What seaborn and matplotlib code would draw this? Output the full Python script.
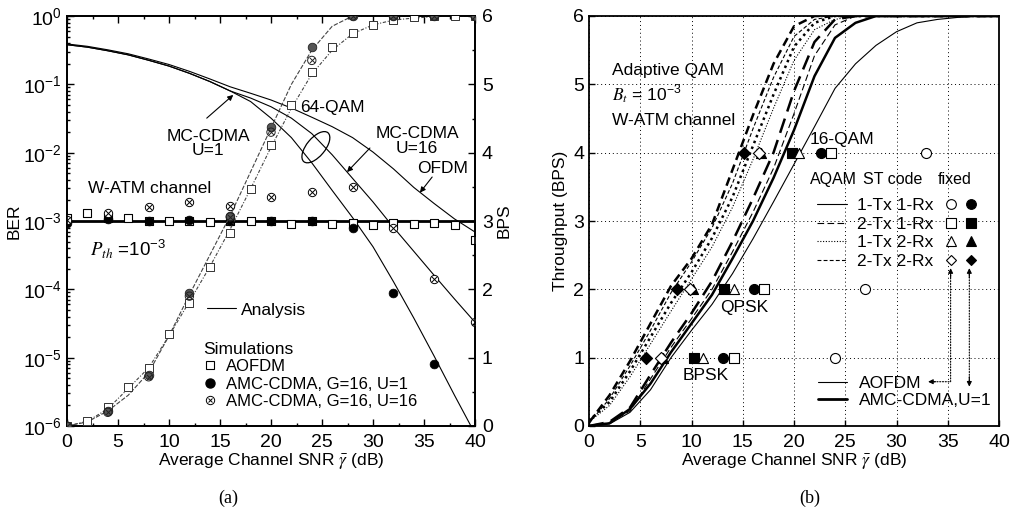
import matplotlib
matplotlib.use("Agg")
import matplotlib.pyplot as plt
import seaborn as sns
import numpy as np
import pandas as pd
from matplotlib.lines import Line2D
from matplotlib.patches import Ellipse
from matplotlib.legend_handler import HandlerTuple
from matplotlib.ticker import MultipleLocator, LogLocator, NullFormatter

# ---------------- data: panel (a) ----------------
snr_a = [0, 2, 4, 6, 8, 10, 12, 14, 16, 18, 20, 22, 24, 26, 28, 30, 32, 34, 36, 38, 40]
snr_u1 = [0, 2, 4, 6, 8, 10, 12, 14, 16, 18, 20, 22, 24, 26, 28, 30, 32, 34, 36, 38, 39.6]
ber_ofdm = [0.39, 0.36, 0.32, 0.28, 0.235, 0.195, 0.155, 0.12, 0.092, 0.074, 0.059, 0.045,
            0.033, 0.024, 0.0166, 0.0102, 5.8e-3, 3.1e-3, 1.8e-3, 1.07e-3, 6.9e-4]
ber_mc_u1 = [0.38, 0.35, 0.31, 0.27, 0.225, 0.185, 0.145, 0.11, 0.08, 0.056, 0.032, 0.0166,
             7.1e-3, 2.8e-3, 1.12e-3, 4.2e-4, 1.3e-4, 3.8e-5, 1.05e-5, 2.8e-6, 1.0e-6]
ber_mc_u16 = [0.38, 0.35, 0.31, 0.27, 0.225, 0.185, 0.145, 0.11, 0.08, 0.063, 0.047, 0.032,
              0.019, 9.3e-3, 4.2e-3, 1.9e-3, 8.1e-4, 3.6e-4, 1.6e-4, 7.2e-5, 3.3e-5]
bps_mc = [0, 0.06, 0.22, 0.45, 0.78, 1.32, 1.92, 2.5, 3.08, 3.72, 4.36, 5.0, 5.5, 5.85, 6, 6, 6, 6, 6, 6, 6]
bps_ofdm = [0, 0.07, 0.25, 0.55, 0.85, 1.32, 1.82, 2.33, 2.88, 3.47, 4.08, 4.65, 5.15, 5.5,
            5.74, 5.87, 5.94, 5.97, 5.99, 6, 6]

ber_sim_aofdm = [1.12e-3, 1.3e-3, 1.1e-3, 1.1e-3, 1.0e-3, 1.0e-3, 1.0e-3, 0.98e-3, 1.0e-3, 1.0e-3,
                 1.0e-3, 0.9e-3, 1.0e-3, 0.9e-3, 0.95e-3, 0.88e-3, 0.92e-3, 0.9e-3, 0.92e-3, 0.87e-3, 5.3e-4]
bps_sim_aofdm = [0, 0.07, 0.28, 0.57, 0.85, 1.35, 1.8, 2.33, 2.82, 3.47, 4.11, 4.7, 5.18, 5.55,
                 5.75, 5.87, 5.94, 5.98, 6, 6, 6]
snr_sim_mc = [0, 4, 8, 12, 16, 20, 24, 28, 32, 36, 40]
snr_sim_u1_ber = [0, 4, 8, 12, 16, 20, 24, 28, 32, 36]
ber_sim_u1 = [0.93e-3, 1.08e-3, 1.0e-3, 1.02e-3, 1.0e-3, 1.0e-3, 1.0e-3, 0.79e-3, 8.8e-5, 8.1e-6]
ber_sim_u16 = [1.05e-3, 1.3e-3, 1.6e-3, 1.9e-3, 1.65e-3, 2.26e-3, 2.7e-3, 3.1e-3, 0.8e-3, 1.4e-4, 3.3e-5]
bps_sim_u1 = [0, 0.22, 0.75, 1.94, 3.08, 4.38, 5.55, 6, 6, 6, 6]
bps_sim_u16 = [0, 0.2, 0.72, 1.9, 3.06, 4.3, 5.35, 6, 6, 6, 6]
p_th = 1e-3

# ---------------- data: panel (b) ----------------
snr_b = [0, 2, 4, 6, 8, 10, 12, 14, 16, 18, 20, 22, 24, 26, 28, 30, 32, 34, 36, 38, 40]
thr_aofdm_1x1 = [0, 0.03, 0.2, 0.53, 1.0, 1.4, 1.78, 2.23, 2.74, 3.28, 3.83, 4.38, 4.94, 5.3, 5.57, 5.77, 5.9, 5.95, 5.98, 6.0, 6.0]
thr_mc_1x1 = [0, 0.04, 0.25, 0.62, 1.08, 1.5, 1.92, 2.45, 3.0, 3.63, 4.33, 5.12, 5.68, 5.9, 6.0, 6, 6, 6, 6, 6, 6]
thr_aofdm_2x1 = [0, 0.05, 0.22, 0.69, 1.15, 1.57, 2.0, 2.55, 3.13, 3.77, 4.57, 5.42, 5.87, 6.0, 6, 6, 6, 6, 6, 6, 6]
thr_mc_2x1 = [0, 0.06, 0.27, 0.75, 1.22, 1.65, 2.12, 2.7, 3.33, 4.0, 4.9, 5.62, 5.95, 6.0, 6, 6, 6, 6, 6, 6, 6]
thr_aofdm_1x2 = [0.06, 0.3, 0.72, 1.2, 1.68, 2.15, 2.62, 3.2, 3.9, 4.65, 5.35, 5.8, 5.95, 6.0, 6, 6, 6, 6, 6, 6, 6]
thr_mc_1x2 = [0.08, 0.35, 0.8, 1.3, 1.8, 2.25, 2.75, 3.35, 4.1, 4.85, 5.55, 5.9, 6.0, 6, 6, 6, 6, 6, 6, 6, 6]
thr_aofdm_2x2 = [0.04, 0.4, 0.88, 1.4, 1.95, 2.4, 2.9, 3.55, 4.35, 5.1, 5.7, 5.95, 6.0, 6, 6, 6, 6, 6, 6, 6, 6]
thr_mc_2x2 = [0.05, 0.45, 0.95, 1.5, 2.05, 2.45, 2.95, 3.75, 4.55, 5.3, 5.85, 6.0, 6, 6, 6, 6, 6, 6, 6, 6, 6]

fixed_bps = [1, 2, 4]
fixed_aofdm_1x1 = [24.0, 26.9, 32.9]
fixed_mc_1x1 = [13.1, 16.1, 22.6]
fixed_aofdm_2x1 = [14.1, 17.1, 23.6]
fixed_mc_2x1 = [10.2, 13.2, 19.8]
fixed_aofdm_1x2 = [11.1, 14.1, 20.5]
fixed_mc_1x2 = [7.2, 10.1, 16.8]
fixed_aofdm_2x2 = [7.0, 9.9, 16.6]
fixed_mc_2x2 = [5.6, 8.6, 15.1]

st_labels = ["1-Tx 1-Rx", "2-Tx 1-Rx", "1-Tx 2-Rx", "2-Tx 2-Rx"]

# ---------------- style ----------------
sns.set_theme(style="ticks", rc={"axes.edgecolor": "black", "text.color": "black",
                                 "axes.labelcolor": "black", "xtick.color": "black",
                                 "ytick.color": "black"})
plt.rcParams["font.family"] = ["Liberation Sans", "DejaVu Sans"]
plt.rcParams["mathtext.fontset"] = "stix"
plt.rcParams["axes.unicode_minus"] = False
FS = 12.5
TFS = 14

fig = plt.figure(figsize=(10.10, 5.13), dpi=100)
axA = fig.add_axes([67 / 1010, 87 / 513, 408 / 1010, 410 / 513])
axB = fig.add_axes([589 / 1010, 87 / 513, 410 / 1010, 410 / 513])

# ================= panel (a) =================
axA.set_yscale("log")
axA.set_xlim(0, 40)
axA.set_ylim(1e-6, 1)
LW = 0.8
sns.lineplot(x=snr_a, y=ber_ofdm, ax=axA, color="black", lw=LW, legend=False)
sns.lineplot(x=snr_u1, y=ber_mc_u1, ax=axA, color="black", lw=LW, legend=False)
sns.lineplot(x=snr_a, y=ber_mc_u16, ax=axA, color="black", lw=LW, legend=False)
axA.axhline(p_th, color="black", lw=2.0, zorder=3)

sns.scatterplot(x=snr_a, y=ber_sim_aofdm, ax=axA, marker="s", color="white", edgecolor="black",
                linewidth=0.8, s=34, zorder=5, legend=False)
sns.scatterplot(x=snr_sim_u1_ber, y=ber_sim_u1, ax=axA, marker="o", color="black", edgecolor="black",
                linewidth=0.5, s=40, zorder=6, legend=False)
sns.scatterplot(x=snr_sim_mc, y=ber_sim_u16, ax=axA, marker="o", color="white", edgecolor="black",
                linewidth=0.7, s=36, zorder=6, legend=False)
sns.scatterplot(x=snr_sim_mc, y=ber_sim_u16, ax=axA, marker="x", color="black",
                linewidth=0.7, s=14, zorder=7, legend=False)

axA.tick_params(which="both", direction="in", top=True, right=False, labelsize=TFS, width=1)
axA.tick_params(which="major", length=5)
axA.tick_params(which="minor", length=2.5)
axA.tick_params(axis="x", pad=6)
axA.xaxis.set_major_locator(MultipleLocator(5))
axA.xaxis.set_minor_locator(MultipleLocator(2.5))
axA.yaxis.set_major_locator(LogLocator(base=10, numticks=10))
axA.yaxis.set_minor_locator(LogLocator(base=10, subs=np.arange(2, 10), numticks=20))
axA.yaxis.set_minor_formatter(NullFormatter())
for sp in axA.spines.values():
    sp.set_linewidth(1.3)
axA.set_xlabel(r"Average Channel SNR $\bar{\gamma}$ (dB)", fontsize=FS, labelpad=0)
axA.set_ylabel("BER", fontsize=FS, labelpad=1)

axA2 = axA.twinx()
axA2.set_ylim(0, 6)
sns.lineplot(x=snr_a, y=bps_mc, ax=axA2, color="#444444", lw=0.8, linestyle=(0, (4, 1.5)), legend=False)
sns.lineplot(x=snr_a, y=bps_ofdm, ax=axA2, color="#444444", lw=0.8, linestyle=(0, (3, 1.5, 1, 1.5)), legend=False)
sns.scatterplot(x=snr_a, y=bps_sim_aofdm, ax=axA2, marker="s", color="white", edgecolor="#333333",
                linewidth=0.7, s=30, zorder=5, legend=False)
sns.scatterplot(x=snr_sim_mc, y=bps_sim_u1, ax=axA2, marker="o", color="#555555", edgecolor="#222222",
                linewidth=0.6, s=38, zorder=6, legend=False)
sns.scatterplot(x=snr_sim_mc, y=bps_sim_u16, ax=axA2, marker="o", color="none", edgecolor="#222222",
                linewidth=0.7, s=36, zorder=7, legend=False)
sns.scatterplot(x=snr_sim_mc, y=bps_sim_u16, ax=axA2, marker="x", color="#222222",
                linewidth=0.7, s=14, zorder=8, legend=False)
axA2.set_xlim(0, 40)
axA2.yaxis.set_major_locator(MultipleLocator(1))
axA2.yaxis.set_minor_locator(MultipleLocator(0.5))
axA2.tick_params(which="both", direction="in", labelsize=TFS, width=1)
axA2.tick_params(which="major", length=5, pad=5)
axA2.tick_params(which="minor", length=2.5)
axA2.set_ylabel("BPS", fontsize=FS, labelpad=3)

# annotations (a)
arr = dict(arrowstyle="-|>", color="black", lw=0.8, mutation_scale=8, shrinkA=0, shrinkB=0)
axA.annotate("", xy=(16.3, 0.07), xytext=(13.7, 0.032), arrowprops=arr)
axA.annotate("", xy=(27.45, 5.2e-3), xytext=(29.7, 0.0117), arrowprops=arr)
axA.annotate("", xy=(34.6, 2.6e-3), xytext=(35.8, 4.4e-3), arrowprops=arr)
axA.text(0.3456, 0.689, "MC-CDMA\nU=1", transform=axA.transAxes, ha="center", va="center",
         fontsize=FS, linespacing=0.95)
axA.text(0.571, 0.776, "64-QAM", transform=axA.transAxes, ha="left", va="center", fontsize=FS)
axA.text(0.858, 0.695, "MC-CDMA\nU=16", transform=axA.transAxes, ha="center", va="center",
         fontsize=FS, linespacing=0.95)
axA.text(0.9216, 0.629, "OFDM", transform=axA.transAxes, ha="center", va="center", fontsize=FS)
axA.text(0.0515, 0.580, "W-ATM channel", transform=axA.transAxes, ha="left", va="center", fontsize=FS)
axA.text(0.056, 0.434, r"$P_{th}$ =10$^{\mathdefault{-3}}$", transform=axA.transAxes, ha="left",
         va="center", fontsize=FS + 1)
axA.add_patch(Ellipse((0.61, 0.68), 0.092, 0.045, angle=50, transform=axA.transAxes,
                      fill=False, ec="black", lw=0.9))

legA1 = axA.legend([Line2D([], [], color="black", lw=0.8)], ["Analysis"], loc="center left",
                   bbox_to_anchor=(0.343, 0.283), frameon=False, borderpad=0, borderaxespad=0,
                   handlelength=1.7, handletextpad=0.25, fontsize=FS)
axA.add_artist(legA1)
h_sq = Line2D([], [], ls="none", marker="s", mfc="white", mec="black", ms=6, mew=0.8)
h_ci = Line2D([], [], ls="none", marker="o", mfc="black", mec="black", ms=6.5)
h_o = Line2D([], [], ls="none", marker="o", mfc="white", mec="black", ms=6, mew=0.7)
h_x = Line2D([], [], ls="none", marker="x", color="black", ms=3.5, mew=0.7)
legA2 = axA.legend([h_sq, h_ci, (h_o, h_x)],
                   ["AOFDM", "AMC-CDMA, G=16, U=1", "AMC-CDMA, G=16, U=16"],
                   title="Simulations", loc="center left", bbox_to_anchor=(0.333, 0.123),
                   frameon=False, borderpad=0, borderaxespad=0, handlelength=0.8,
                   handletextpad=0.57, labelspacing=0.15, alignment="left", fontsize=FS - 0.5,
                   title_fontsize=FS, handler_map={tuple: HandlerTuple(ndivide=1)})

# ================= panel (b) =================
axB.set_xlim(0, 40)
axB.set_ylim(0, 6)
styles = {"1x1": "-", "2x1": (0, (6, 3)), "1x2": (0, (1, 1.5)), "2x2": (0, (3.5, 2))}
THIN, THICK = 0.8, 1.8
curves = [(thr_aofdm_1x1, "1x1", THIN), (thr_mc_1x1, "1x1", THICK),
          (thr_aofdm_2x1, "2x1", THIN), (thr_mc_2x1, "2x1", THICK),
          (thr_aofdm_1x2, "1x2", THIN), (thr_mc_1x2, "1x2", THICK),
          (thr_aofdm_2x2, "2x2", THIN), (thr_mc_2x2, "2x2", THICK)]
for yv, key, lw in curves:
    sns.lineplot(x=snr_b, y=yv, ax=axB, color="black", lw=lw, linestyle=styles[key], legend=False)

MS = 52
mk = dict(ax=axB, linewidth=0.8, s=MS, zorder=6, legend=False)
sns.scatterplot(x=fixed_aofdm_1x1, y=fixed_bps, marker="o", color="white", edgecolor="black", **mk)
sns.scatterplot(x=fixed_mc_1x1, y=fixed_bps, marker="o", color="black", edgecolor="black", **mk)
sns.scatterplot(x=fixed_aofdm_2x1, y=fixed_bps, marker="s", color="white", edgecolor="black", **mk)
sns.scatterplot(x=fixed_mc_2x1, y=fixed_bps, marker="s", color="black", edgecolor="black", **mk)
sns.scatterplot(x=fixed_aofdm_1x2, y=fixed_bps, marker="^", color="white", edgecolor="black", **mk)
sns.scatterplot(x=fixed_mc_1x2, y=fixed_bps, marker="^", color="black", edgecolor="black", **mk)
sns.scatterplot(x=fixed_aofdm_2x2, y=fixed_bps, marker="D", color="white", edgecolor="black",
                ax=axB, linewidth=0.8, s=38, zorder=7, legend=False)
sns.scatterplot(x=fixed_mc_2x2, y=fixed_bps, marker="D", color="black", edgecolor="black",
                ax=axB, linewidth=0.8, s=38, zorder=7, legend=False)

axB.xaxis.set_major_locator(MultipleLocator(5))
axB.yaxis.set_major_locator(MultipleLocator(1))
axB.grid(True, which="major", color="black", lw=0.7, linestyle=(0, (1, 3)))
axB.tick_params(which="both", direction="in", labelsize=TFS, length=4, width=1)
axB.tick_params(axis="x", pad=6)
for sp in axB.spines.values():
    sp.set_linewidth(1.3)
axB.set_xlabel(r"Average Channel SNR $\bar{\gamma}$ (dB)", fontsize=FS, labelpad=0)
axB.set_ylabel("Throughput (BPS)", fontsize=FS, labelpad=4)

axB.text(0.056, 0.868, "Adaptive QAM", transform=axB.transAxes, ha="left", va="center", fontsize=FS)
axB.text(0.056, 0.807, r"$B_t$ = 10$^{\mathdefault{-3}}$", transform=axB.transAxes, ha="left",
         va="center", fontsize=FS)
axB.text(0.056, 0.746, "W-ATM channel", transform=axB.transAxes, ha="left", va="center", fontsize=FS)
axB.text(0.539, 0.6976, "16-QAM", transform=axB.transAxes, ha="left", va="center", fontsize=FS)
axB.text(0.3195, 0.290, "QPSK", transform=axB.transAxes, ha="left", va="center", fontsize=FS)
axB.text(0.229, 0.124, "BPSK", transform=axB.transAxes, ha="left", va="center", fontsize=FS)
HFS = 11.5
axB.text(0.539, 0.602, "AQAM", transform=axB.transAxes, ha="left", va="center", fontsize=HFS)
axB.text(0.668, 0.602, "ST code", transform=axB.transAxes, ha="left", va="center", fontsize=HFS)
axB.text(0.851, 0.602, "fixed", transform=axB.transAxes, ha="left", va="center", fontsize=HFS)

line_handles = [Line2D([], [], color="black", lw=0.8, linestyle=styles[k]) for k in ["1x1", "2x1", "1x2", "2x2"]]
common = dict(loc="center left", frameon=False, borderpad=0, borderaxespad=0, fontsize=FS,
              labelspacing=0.2)
legB1 = axB.legend(line_handles, st_labels, bbox_to_anchor=(0.556, 0.4695), handlelength=1.72,
                   handletextpad=0.57, **common)
axB.add_artist(legB1)
open_h = [Line2D([], [], ls="none", marker=m, mfc="white", mec="black", ms=ms, mew=0.8)
          for m, ms in [("o", 7), ("s", 7), ("^", 7), ("D", 5.5)]]
fill_h = [Line2D([], [], ls="none", marker=m, mfc="black", mec="black", ms=ms, mew=0.8)
          for m, ms in [("o", 7), ("s", 7), ("^", 7), ("D", 5.5)]]
legB2 = axB.legend(open_h, [""] * 4, bbox_to_anchor=(0.866, 0.4695), handlelength=0.8,
                   handletextpad=0, **common)
axB.add_artist(legB2)
legB3 = axB.legend(fill_h, [""] * 4, bbox_to_anchor=(0.915, 0.4695), handlelength=0.8,
                   handletextpad=0, **common)
axB.add_artist(legB3)
legB4 = axB.legend([Line2D([], [], color="black", lw=0.8), Line2D([], [], color="black", lw=2.0)],
                   ["AOFDM", "AMC-CDMA,U=1"], bbox_to_anchor=(0.5585, 0.083), handlelength=1.65,
                   handletextpad=0.7, **dict(common, labelspacing=0.12))

dot = dict(arrowstyle="-", color="black", lw=0.8, linestyle=(0, (1, 1.5)), shrinkA=0, shrinkB=0)
head = dict(arrowstyle="-|>", color="black", lw=0.8, mutation_scale=7, shrinkA=0, shrinkB=0)
T = axB.transAxes
axB.annotate("", xy=(0.882, 0.372), xytext=(0.882, 0.108), xycoords=T, textcoords=T, arrowprops=dot)
axB.annotate("", xy=(0.882, 0.108), xytext=(0.835, 0.108), xycoords=T, textcoords=T, arrowprops=dot)
axB.annotate("", xy=(0.882, 0.385), xytext=(0.882, 0.362), xycoords=T, textcoords=T, arrowprops=head)
axB.annotate("", xy=(0.827, 0.108), xytext=(0.845, 0.108), xycoords=T, textcoords=T, arrowprops=head)
axB.annotate("", xy=(0.9276, 0.372), xytext=(0.9276, 0.11), xycoords=T, textcoords=T, arrowprops=dot)
axB.annotate("", xy=(0.9276, 0.385), xytext=(0.9276, 0.362), xycoords=T, textcoords=T, arrowprops=head)
axB.annotate("", xy=(0.9276, 0.096), xytext=(0.9276, 0.12), xycoords=T, textcoords=T, arrowprops=head)

fig.text(228 / 1010, 1 - 498 / 513, "(a)", ha="center", va="center", fontsize=FS + 0.5,
         family=["Liberation Serif", "DejaVu Serif"])
fig.text(810 / 1010, 1 - 498 / 513, "(b)", ha="center", va="center", fontsize=FS + 0.5,
         family=["Liberation Serif", "DejaVu Serif"])

fig.savefig("out.png", dpi=100)
